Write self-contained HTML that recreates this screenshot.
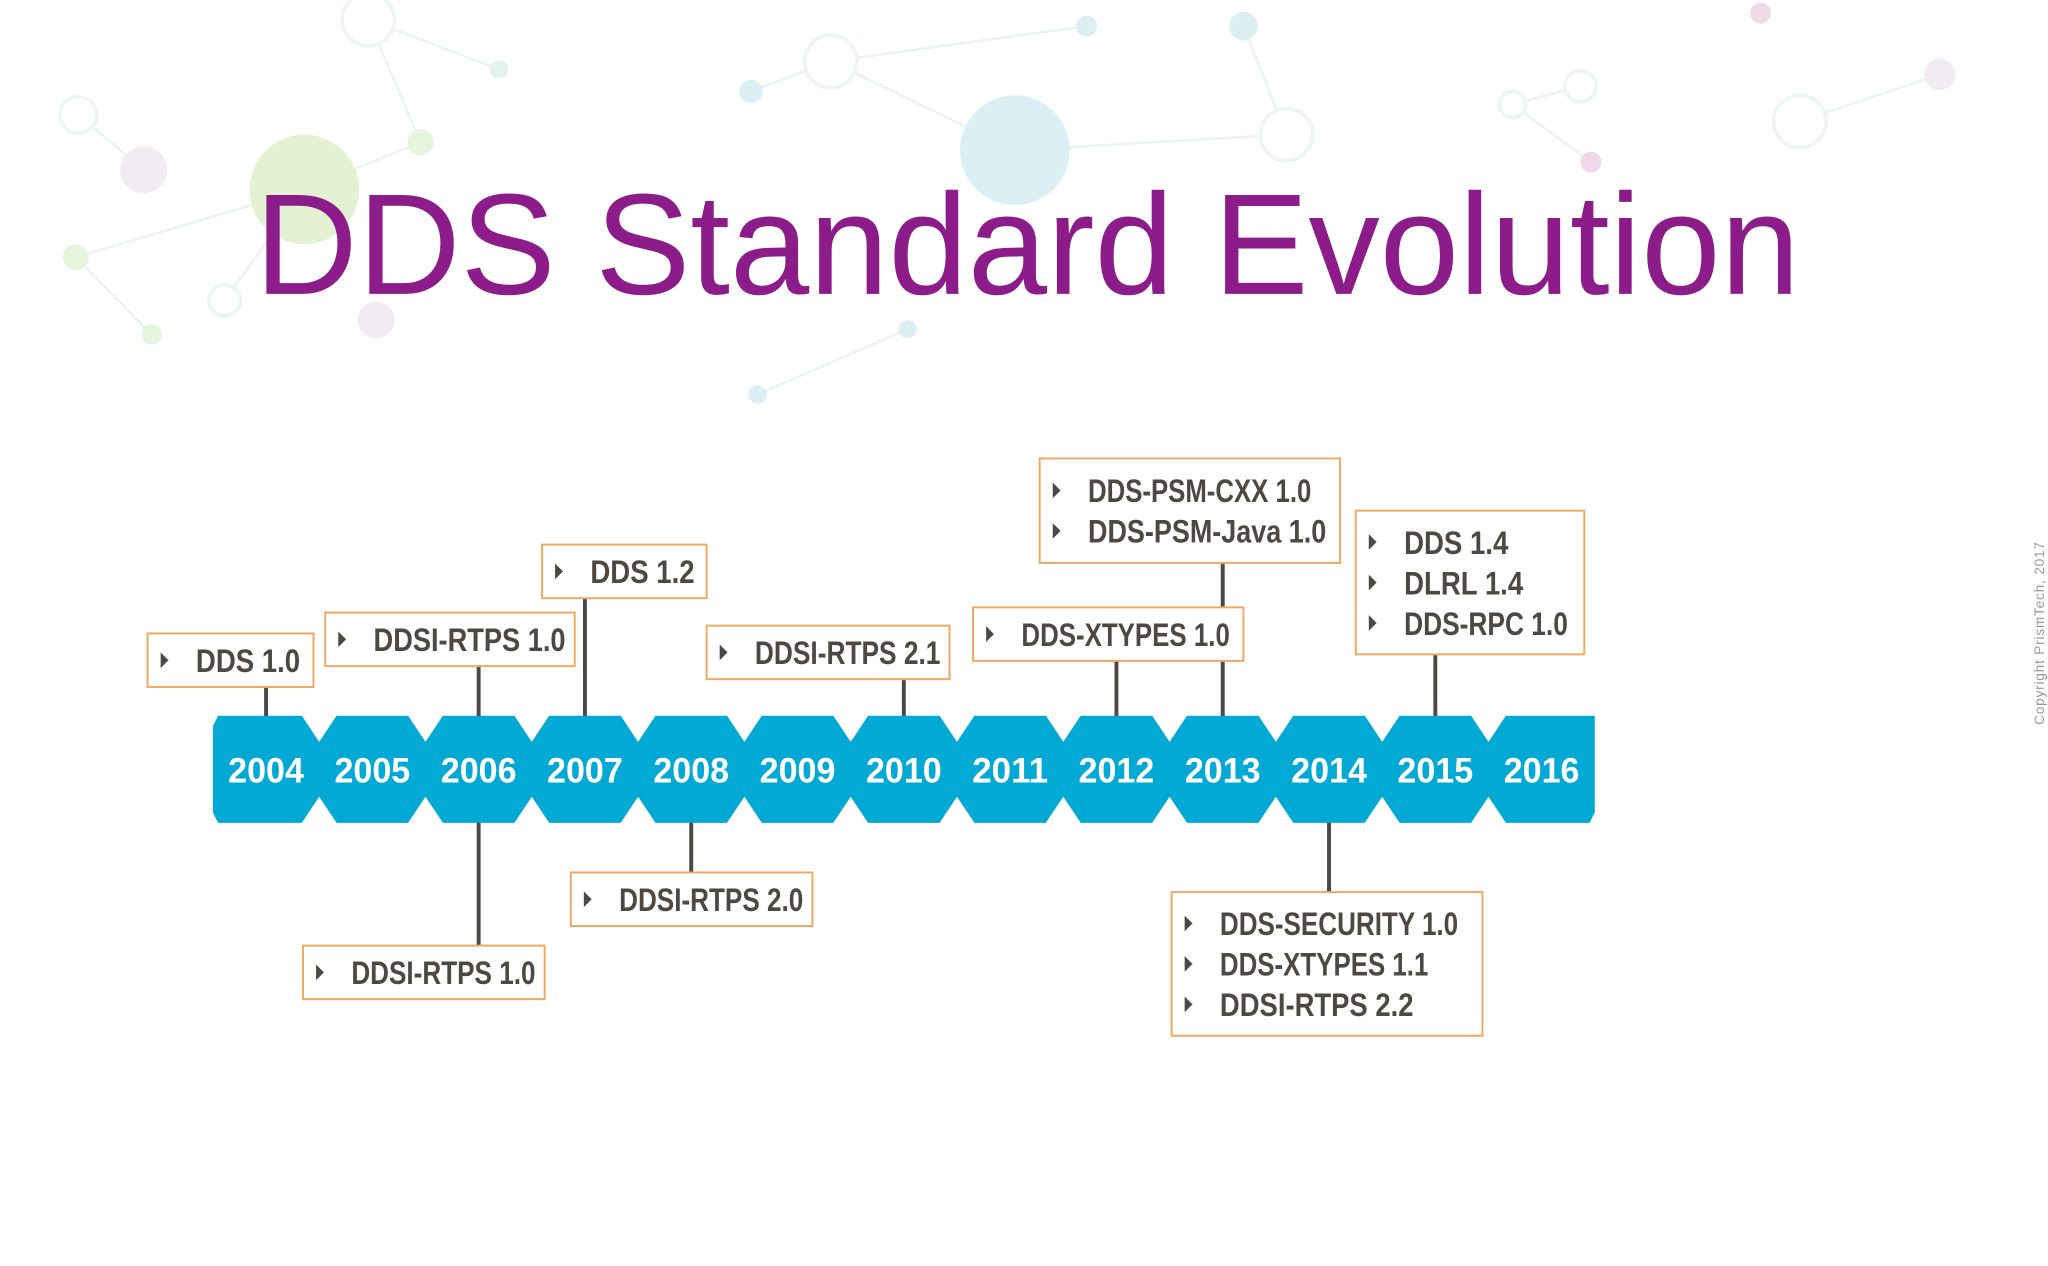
<!DOCTYPE html>
<html><head><meta charset="utf-8">
<style>
html,body{margin:0;padding:0;background:#fff;}
svg{display:block;}
</style></head>
<body>
<svg id="chart" width="2048" height="1266" viewBox="0 0 1568 969.3" preserveAspectRatio="none" xmlns="http://www.w3.org/2000/svg">
<g id="bg" opacity="0.55"></g>
<text x="195" y="225" font-family="Liberation Sans, sans-serif" font-size="110" fill="#8c1c8a" textLength="1183" lengthAdjust="spacingAndGlyphs">DDS Standard Evolution</text>
<g id="stems"></g>
<g id="band"></g>
<g id="events"></g>
<text transform="translate(1565,555) rotate(-90)" font-family="Liberation Sans, sans-serif" font-size="10.5" fill="#999" textLength="140">Copyright PrismTech, 2017</text>
</svg>
<script>
const years = [2004,2005,2006,2007,2008,2009,2010,2011,2012,2013,2014,2015,2016];
const eventYears = [2004,2006,2007,2010,2012,2013,2015,2006,2008,2014];
const eventSides = ['up','up','up','up','up','up','up','down','down','down'];
const eventLabels = [
 ['DDS 1.0'],['DDSI-RTPS 1.0'],['DDS 1.2'],['DDSI-RTPS 2.1'],['DDS-XTYPES 1.0'],
 ['DDS-PSM-CXX 1.0','DDS-PSM-Java 1.0'],['DDS 1.4','DLRL 1.4','DDS-RPC 1.0'],
 ['DDSI-RTPS 1.0'],['DDSI-RTPS 2.0'],['DDS-SECURITY 1.0','DDS-XTYPES 1.1','DDSI-RTPS 2.2']
];
// layout (not data): box left / top / width per event
const boxLeft = [113,249,415,541,745,796,1038,232,437,897];
const boxTop = [485,469,417,479,465,351,391,724,668,683];
const boxW = [127,191,126,186,207,230,175,185,185,238];

const NS='http://www.w3.org/2000/svg';
function mk(tag,attrs,parent){const e=document.createElementNS(NS,tag);for(const k in attrs)e.setAttribute(k,attrs[k]);parent.appendChild(e);return e;}
const bandL=163,bandR=1221,bandT=548,bandB=630;
const cellW=(bandR-bandL)/years.length;
function xScale(y){return bandL+(years.indexOf(y)+0.5)*cellW;}

// background network
const bg=document.getElementById('bg');
const nodes=[[233,145,42,'#cfe8b0',1],[777,115,42,'#bfe3ee',1],[636,47,20,'none',0],[282,15,20,'none',0],[985,103,20,'none',0],[1378,93,20,'none',0],[110,130,18,'#eadbe8',1],[60,88,14,'none',0],[575,70,9,'#bfe3ee',1],[952,20,11,'#bfe3ee',1],[1158,80,10,'none',0],[1218,124,8,'#e6b9d8',1],[58,197,10,'#d5ecc4',1],[116,256,8,'#d5ecc4',1],[322,109,10,'#d5ecc4',1],[382,53,7,'#cfe9de',1],[695,252,7,'#bfe3ee',1],[580,302,7,'#bfe3ee',1],[288,245,14,'#eadbe8',1],[1485,57,12,'#eadbe8',1],[1348,10,8,'#e6b9d8',1],[832,20,8,'#bfe3ee',1],[1210,66,12,'none',0],[172,230,12,'none',0]];
const links=[[0,12],[12,13],[0,14],[14,3],[3,15],[2,8],[2,1],[1,4],[4,9],[10,11],[10,22],[5,19],[6,7],[16,17],[0,23],[2,21]];
links.forEach(l=>{const a=nodes[l[0]],b=nodes[l[1]];const ln=mk('line',{x1:a[0],y1:a[1],x2:b[0],y2:b[1],stroke:'#dde9ee','stroke-width':2},bg);

});
nodes.forEach(n=>{const c=mk('circle',{cx:n[0],cy:n[1],r:n[2],fill:n[4]?n[3]:'#fff',stroke:n[4]?'none':'#e3edf0','stroke-width':3},bg);

});

// band
const band=document.getElementById('band');
const rect=mk('polygon',{points:`${bandL+4},${bandT} ${bandR},${bandT} ${bandR},${bandB-8} ${bandR-4},${bandB} ${bandL+4},${bandB} ${bandL},${bandB-8} ${bandL},${bandT+8}`,fill:'#02a9d4'},band);


years.forEach((y,i)=>{
  const cx=xScale(y);
  if(i>0){const nx=bandL+i*cellW;
    const t1=mk('polygon',{points:`${nx-14},${bandT-1} ${nx+14},${bandT-1} ${nx},${bandT+20}`,fill:'#fff'},band);
    
    
    const t2=mk('polygon',{points:`${nx-14},${bandB+1} ${nx+14},${bandB+1} ${nx},${bandB-20}`,fill:'#fff'},band);
    
    }
  const t=mk('text',{x:cx,y:599,'text-anchor':'middle','font-family':'Liberation Sans Narrow, Liberation Sans, sans-serif','font-weight':'bold','font-size':27,fill:'#fff',textLength:58,lengthAdjust:'spacingAndGlyphs'},band);
  t.textContent=y;
  
  
});

// events
const ev=document.getElementById('events');
const stems=document.getElementById('stems');
eventYears.forEach((y,i)=>{
  const g=mk('g',{},ev);
  
  
  const lines=eventLabels[i];
  const h=lines.length===1?41:(lines.length===2?80:110);
  const x=boxLeft[i], top=boxTop[i], w=boxW[i];
  const sx=xScale(y);
  const stem = eventSides[i]==='up'
    ? mk('line',{x1:sx,y1:top+h/2,x2:sx,y2:bandT+2,stroke:'#4d4843','stroke-width':3},stems)
    : mk('line',{x1:sx,y1:bandB-2,x2:sx,y2:top+h/2,stroke:'#4d4843','stroke-width':3},stems);
  
  
  const b=mk('rect',{x:x,y:top,width:w,height:h,fill:'#fff',stroke:'#f0a860','stroke-width':1.5},g);
  
  
  const pitch=31;
  lines.forEach((s,j)=>{
    const cy=top+h/2+(j-(lines.length-1)/2)*pitch;
    const tri=mk('polygon',{points:`${x+10},${cy-6} ${x+16},${cy} ${x+10},${cy+6}`,fill:'#4d4843'},g);
    
    
    const t=mk('text',{x:x+37,y:cy+9,'font-family':'Liberation Sans Narrow, Liberation Sans, sans-serif','font-weight':'bold','font-size':25,fill:'#4d4843'},g);
    t.textContent=s;
    
    
    const tw=s.length*11.4;
    t.setAttribute('textLength',Math.min(tw,w-44));
    t.setAttribute('lengthAdjust','spacingAndGlyphs');
  });
});
</script>
</body></html>
